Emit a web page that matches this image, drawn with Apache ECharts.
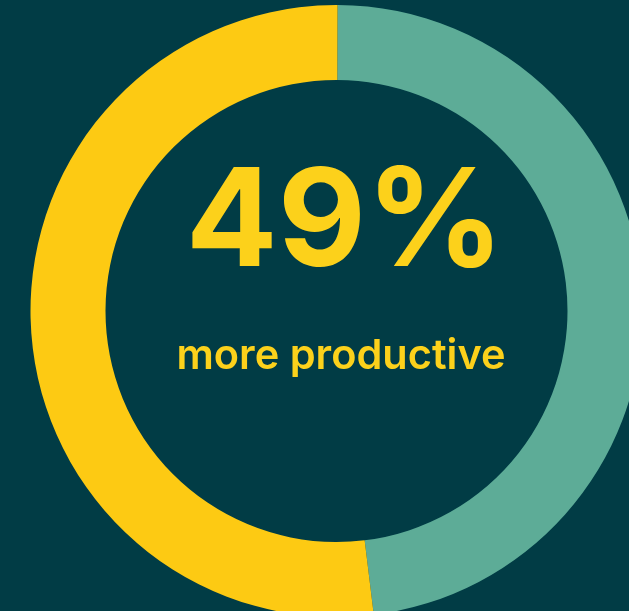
<!DOCTYPE html>
<html>
<head>
<meta charset="utf-8">
<script src="https://cdn.jsdelivr.net/npm/echarts@6/dist/echarts.min.js"></script>
<style>
html, body { margin: 0; padding: 0; background: #013C45; }
#chart { width: 629px; height: 611px; }
</style>
</head>
<body>
<div id="chart"></div>
<script>
// Data
const categories = ['Other', 'More productive'];
const values = [48, 52];
const sliceColors = ['#5DAC97', '#FDCA13'];
const headline = '49%';
const subline = 'more productive';

const chart = echarts.init(document.getElementById('chart'), null, { renderer: 'canvas' });
chart.setOption({
  backgroundColor: '#013C45',
  animation: false,
  series: [{
    type: 'pie',
    center: [336.5, 311],
    radius: [231, 306],
    startAngle: 89.8,
    clockwise: true,
    silent: true,
    label: { show: false },
    labelLine: { show: false },
    itemStyle: { borderWidth: 0 },
    data: categories.map((c, i) => ({ name: c, value: values[i], itemStyle: { color: sliceColors[i] } }))
  }],
  graphic: [
    {
      type: 'text',
      x: 345,
      y: 225,
      style: {
        text: headline,
        align: 'center',
        verticalAlign: 'middle',
        fill: '#FCD11B',
        font: 'bold 136px Inter, "Noto Sans", sans-serif'
      }
    },
    {
      type: 'text',
      x: 341,
      y: 357,
      style: {
        text: subline,
        align: 'center',
        verticalAlign: 'middle',
        fill: '#FCD11B',
        font: '600 41.5px Inter, "Noto Sans", sans-serif'
      }
    }
  ]
});
</script>
</body>
</html>
